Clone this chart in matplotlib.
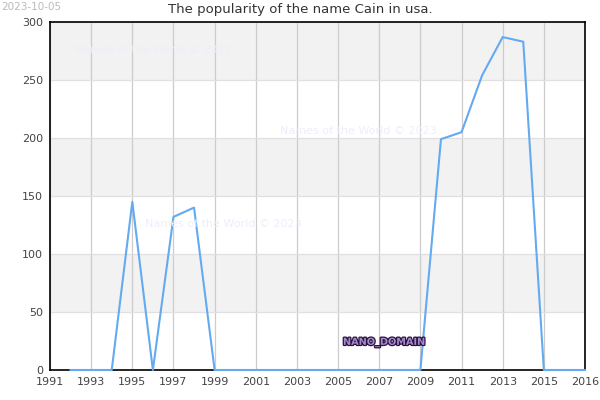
import matplotlib
matplotlib.use('Agg')
import matplotlib.pyplot as plt
import matplotlib.patheffects as pe

# 数据
years = list(range(1992, 2018))
counts = [0, 0, 0, 145, 0, 132, 140, 0, 0, 0, 0, 0, 0, 0, 0, 0, 0, 0,
          199, 205, 254, 287, 283, 0, 0, 0]
x_tick_pos = [1991, 1993, 1995, 1997, 1999, 2001, 2003, 2005, 2007, 2009, 2011, 2013, 2015, 2017]
x_tick_labels = ['1991', '1993', '1995', '1997', '1999', '2001', '2003', '2005', '2007',
                 '2009', '2011', '2013', '2015', '2016']
y_ticks = [0, 50, 100, 150, 200, 250, 300]

plt.rcParams['font.family'] = ['DejaVu Sans']

fig = plt.figure(figsize=(6, 4), dpi=100)
ax = fig.add_axes([50/600, 30/400, 535/600, 348/400])

# 交替背景条
for lo in (50, 150, 250):
    ax.axhspan(lo, lo + 50, color='#f2f2f2', zorder=0, lw=0)

ax.plot(years, counts, color='#64aaf0', linewidth=1.5, zorder=5, clip_on=False)

ax.set_xlim(1991, 2017)
ax.set_ylim(0, 300)
ax.set_xticks(x_tick_pos)
ax.set_xticklabels(x_tick_labels)
ax.set_yticks(y_ticks)
ax.tick_params(length=0, labelsize=8, colors='#444444', pad=5)
ax.grid(axis='x', color='#cccccc', linewidth=0.9, zorder=1)
ax.grid(axis='y', color='#e0e0e0', linewidth=0.9, zorder=1)
for s in ax.spines.values():
    s.set_linewidth(1.2)
    s.set_color('black')
    s.set_zorder(4)

fig.text(0.5, 390/400, 'The popularity of the name Cain in usa.', fontsize=9.5,
         color='#333333', ha='center', va='center')

# 水印
for (wx, wy) in [(75, 350), (280, 269), (145, 176)]:
    fig.text(wx/600, wy/400, 'Names of the World © 2023', fontsize=8,
             color='#eeeefc', va='center', ha='left')

fig.text(343/600, 58/400, 'NANO_DOMAIN', fontsize=7, color='#a58cc8',
         va='center', ha='left', fontweight='bold',
         path_effects=[pe.withStroke(linewidth=1.8, foreground='#2a1040')])
fig.text(0.002, 0.995, '2023-10-05', fontsize=7.5, color='#bbbbbb', va='top', ha='left')

fig.savefig('out.png', dpi=100)
